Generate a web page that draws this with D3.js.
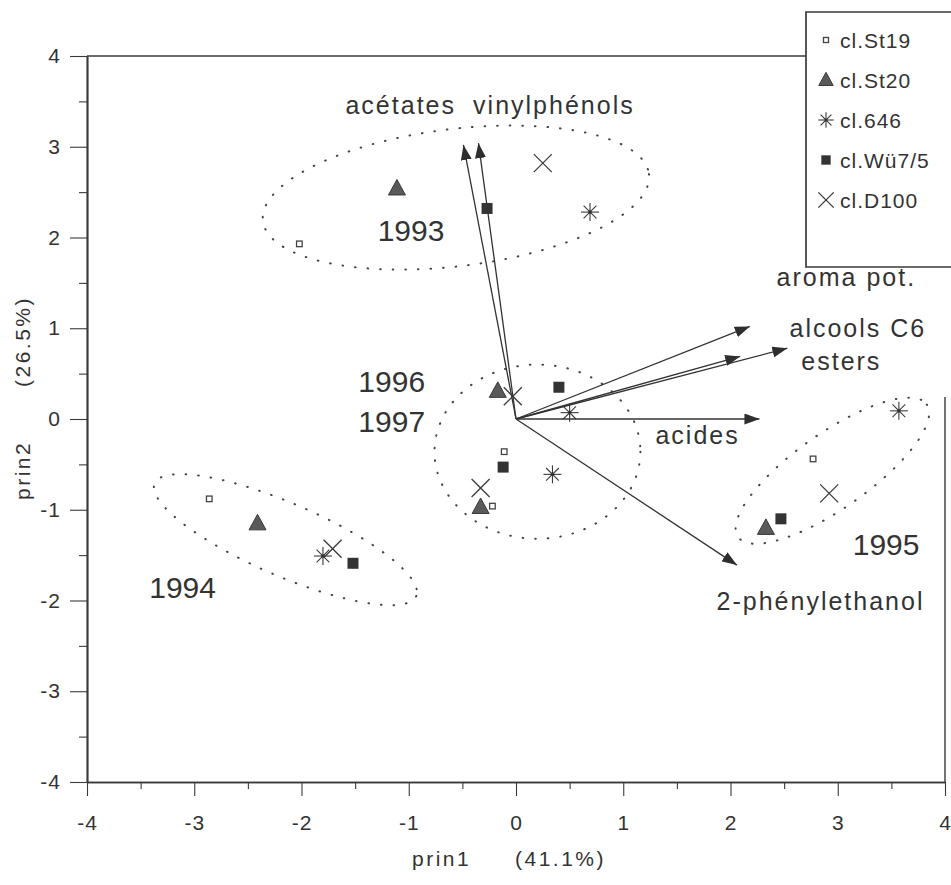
<!DOCTYPE html>
<html>
<head>
<meta charset="utf-8">
<script src="https://cdn.jsdelivr.net/npm/d3@7"></script>
<style>
  html, body { margin: 0; padding: 0; background: #fff; }
  svg { display: block; }
  text { font-family: "Liberation Sans", Arial, Helvetica, sans-serif; fill: #333; }
</style>
</head>
<body>
<svg id="chart" width="951" height="885"></svg>
<script>
// ---------- data ----------
const clones = ["cl.St19", "cl.St20", "cl.646", "cl.Wü7/5", "cl.D100"];
const years = ["1993", "1994", "1995", "1996", "1997"];

// scores on prin1 / prin2, one value per clone (order of `clones`)
const prin1_1993 = [-2.02, -1.11, 0.69, -0.27, 0.25];
const prin2_1993 = [1.93, 2.54, 2.28, 2.32, 2.82];
const prin1_1994 = [-2.86, -2.41, -1.80, -1.52, -1.71];
const prin2_1994 = [-0.88, -1.15, -1.51, -1.59, -1.43];
const prin1_1995 = [2.77, 2.33, 3.57, 2.47, 2.92];
const prin2_1995 = [-0.44, -1.20, 0.09, -1.10, -0.82];
const prin1_1996 = [-0.11, -0.17, 0.50, 0.40, -0.03];
const prin2_1996 = [-0.36, 0.31, 0.07, 0.35, 0.25];
const prin1_1997 = [-0.22, -0.33, 0.34, -0.12, -0.33];
const prin2_1997 = [-0.96, -0.97, -0.61, -0.53, -0.76];

// variable loadings (arrows)
const variables = ["acétates", "vinylphénols", "aroma pot.", "alcools C6", "esters", "acides", "2-phénylethanol"];
const loadPrin1 = [-0.49, -0.35, 2.18, 2.53, 2.09, 2.27, 2.06];
const loadPrin2 = [3.02, 3.04, 1.02, 0.78, 0.69, 0.00, -1.61];

// year groups drawn as dotted ellipses: centre and two conjugate semi-axes (data units)
const groupNames = ["1993", "1994", "1995", "1996-1997"];
const ellCx = [-0.56, -2.15, 2.95, 0.20];
const ellCy = [2.44, -1.33, -0.57, -0.36];
const ellUx = [1.80, 1.22, 0.88, 0.96];
const ellUy = [0.26, -0.62, 0.73, 0.00];
const ellVx = [0.08, -0.13, 0.20, 0.00];
const ellVy = [-0.75, -0.37, -0.34, -0.96];

const axisTicks = [-4, -3, -2, -1, 0, 1, 2, 3, 4];
const axisMinor = [-3.5, -2.5, -1.5, -0.5, 0.5, 1.5, 2.5, 3.5];
const xTitle = ["prin1", "(41.1%)"];
const yTitle = ["prin2", "(26.5%)"];

// ---------- drawing ----------
const svg = d3.select("#chart");
const ink = "#3a3a3a";

const x = d3.scaleLinear().domain([-4, 4]).range([87, 945]);
const y = d3.scaleLinear().domain([-4, 4]).range([782, 56]);

// frame lines
svg.append("line").attr("x1", x(-4)).attr("x2", 806).attr("y1", y(4)).attr("y2", y(4))
  .attr("stroke", ink).attr("stroke-width", 1.7);
svg.append("line").attr("x1", x(4)).attr("x2", x(4)).attr("y1", 397).attr("y2", y(-4))
  .attr("stroke", ink).attr("stroke-width", 1.4);

// axes
function styleAxis(g) {
  g.attr("font-size", null).attr("font-family", null);
  g.selectAll("path").attr("stroke", ink).attr("stroke-width", 1.7);
  g.selectAll("line").attr("stroke", ink).attr("stroke-width", 1.1);
  g.selectAll("text").attr("fill", "#333").attr("font-size", 21)
    .style("font-size", "21px").style("letter-spacing", "1px");
}
const gy = svg.append("g").attr("transform", `translate(${x(-4)},0)`)
  .call(d3.axisLeft(y).tickValues(axisTicks).tickSize(17).tickSizeOuter(0).tickPadding(9).tickFormat(d3.format("d")));
styleAxis(gy);
const gyMinor = svg.append("g").attr("transform", `translate(${x(-4)},0)`)
  .call(d3.axisLeft(y).tickValues(axisMinor).tickSize(8).tickSizeOuter(0).tickFormat(""));
styleAxis(gyMinor);
gy.selectAll("text").text(d => d < 0 ? "-" + Math.abs(d) : d);

const gx = svg.append("g").attr("transform", `translate(0,${y(-4)})`)
  .call(d3.axisBottom(x).tickValues(axisTicks).tickSize(14).tickSizeOuter(0).tickPadding(19).tickFormat(d3.format("d")));
styleAxis(gx);
const gxMinor = svg.append("g").attr("transform", `translate(0,${y(-4)})`)
  .call(d3.axisBottom(x).tickValues(axisMinor).tickSize(7).tickSizeOuter(0).tickFormat(""));
styleAxis(gxMinor);
gx.selectAll("text").text(d => d < 0 ? "-" + Math.abs(d) : d);

// axis titles
svg.append("text").attr("x", 412).attr("y", 866).text(xTitle[0])
  .style("font-size", "21px").style("letter-spacing", "2.5px");
svg.append("text").attr("x", 515).attr("y", 866).text(xTitle[1])
  .style("font-size", "21px").style("letter-spacing", "2.5px");
svg.append("text").attr("transform", "translate(30,500) rotate(-90)").text(yTitle[0])
  .style("font-size", "21px").style("letter-spacing", "2.5px");
svg.append("text").attr("transform", "translate(30,387) rotate(-90)").text(yTitle[1])
  .style("font-size", "21px").style("letter-spacing", "2.5px");

// dotted ellipses
const tSamples = d3.range(0, 2 * Math.PI, Math.PI / 90);
const ellLine = d3.line().curve(d3.curveLinearClosed);
groupNames.forEach((g, i) => {
  const pts = tSamples.map(t => [
    x(ellCx[i] + ellUx[i] * Math.cos(t) + ellVx[i] * Math.sin(t)),
    y(ellCy[i] + ellUy[i] * Math.cos(t) + ellVy[i] * Math.sin(t))
  ]);
  svg.append("path").attr("d", ellLine(pts)).attr("fill", "none")
    .attr("stroke", "#444").attr("stroke-width", 2)
    .attr("stroke-linecap", "round").attr("stroke-dasharray", "0.6 12");
});

// arrows
const defs = svg.append("defs");
defs.append("marker").attr("id", "ah").attr("viewBox", "0 0 15 11")
  .attr("refX", 15).attr("refY", 5.5).attr("markerWidth", 15).attr("markerHeight", 11)
  .attr("markerUnits", "userSpaceOnUse").attr("orient", "auto")
  .append("path").attr("d", "M0,0 L15,5.5 L0,11 Z").attr("fill", "#2e2e2e");
variables.forEach((v, i) => {
  svg.append("line").attr("x1", x(0)).attr("y1", y(0))
    .attr("x2", x(loadPrin1[i])).attr("y2", y(loadPrin2[i]))
    .attr("stroke", "#333").attr("stroke-width", 1.3).attr("marker-end", "url(#ah)");
});

// variable labels (anchors in data units)
const varLabelPos = [[-1.59, 3.36], [-0.40, 3.36], [2.43, 1.47], [2.55, 0.90], [2.66, 0.54], [1.30, -0.27], [1.87, -2.10]];
variables.forEach((v, i) => {
  svg.append("text").attr("x", x(varLabelPos[i][0])).attr("y", y(varLabelPos[i][1]))
    .text(v).style("font-size", "25px").style("letter-spacing", "2px");
});

// year labels
const yearLabelPos = [[-1.29, 1.96], [-3.42, -1.97], [3.14, -1.50], [-1.47, 0.30], [-1.47, -0.14]];
years.forEach((yr, i) => {
  svg.append("text").attr("x", x(yearLabelPos[i][0])).attr("y", y(yearLabelPos[i][1]))
    .text(yr).style("font-size", "30px");
});

// point symbols
function drawSymbol(g, k, cx, cy, scale = 1) {
  const s = scale;
  if (k === 0) {
    g.append("rect").attr("x", cx - 2.8 * s).attr("y", cy - 2.8 * s).attr("width", 5.6 * s).attr("height", 5.6 * s)
      .attr("fill", "#fff").attr("stroke", "#444").attr("stroke-width", 1.3);
  } else if (k === 1) {
    g.append("path").attr("d", `M${cx},${cy - 9 * s} L${cx + 8.5 * s},${cy + 6.5 * s} L${cx - 8.5 * s},${cy + 6.5 * s} Z`)
      .attr("fill", "#5a5a5a").attr("stroke", "#3a3a3a").attr("stroke-width", 1);
  } else if (k === 2) {
    const r = 9 * s;
    const d = r * Math.SQRT1_2;
    const star = g.append("g").attr("stroke", "#3a3a3a").attr("stroke-width", 1.1);
    star.append("line").attr("x1", cx - r).attr("x2", cx + r).attr("y1", cy).attr("y2", cy);
    star.append("line").attr("x1", cx).attr("x2", cx).attr("y1", cy - r).attr("y2", cy + r);
    star.append("line").attr("x1", cx - d).attr("x2", cx + d).attr("y1", cy - d).attr("y2", cy + d);
    star.append("line").attr("x1", cx - d).attr("x2", cx + d).attr("y1", cy + d).attr("y2", cy - d);
    g.append("circle").attr("cx", cx).attr("cy", cy).attr("r", 1.8 * s).attr("fill", "#333");
  } else if (k === 3) {
    g.append("rect").attr("x", cx - 5.5 * s).attr("y", cy - 5.5 * s).attr("width", 11 * s).attr("height", 11 * s)
      .attr("fill", "#333");
  } else {
    const r = 9 * s;
    const xg = g.append("g").attr("stroke", "#3a3a3a").attr("stroke-width", 1.3);
    xg.append("line").attr("x1", cx - r).attr("x2", cx + r).attr("y1", cy - r).attr("y2", cy + r);
    xg.append("line").attr("x1", cx - r).attr("x2", cx + r).attr("y1", cy + r).attr("y2", cy - r);
  }
}

const scoreX = [prin1_1993, prin1_1994, prin1_1995, prin1_1996, prin1_1997];
const scoreY = [prin2_1993, prin2_1994, prin2_1995, prin2_1996, prin2_1997];
const gPts = svg.append("g");
years.forEach((yr, i) => {
  clones.forEach((c, k) => {
    drawSymbol(gPts, k, x(scoreX[i][k]), y(scoreY[i][k]));
  });
});

// legend
const lg = svg.append("g");
lg.append("path").attr("d", "M960,12 L806,12 L806,267 L960,267")
  .attr("fill", "#fff").attr("stroke", ink).attr("stroke-width", 1.7);
clones.forEach((c, k) => {
  const cy = 40 + k * 40;
  drawSymbol(lg, k, 826, cy, k === 0 ? 0.9 : 0.85);
  lg.append("text").attr("x", 840).attr("y", cy + 8).text(c)
    .style("font-size", "21px").style("letter-spacing", "1px");
});
</script>
</body>
</html>
